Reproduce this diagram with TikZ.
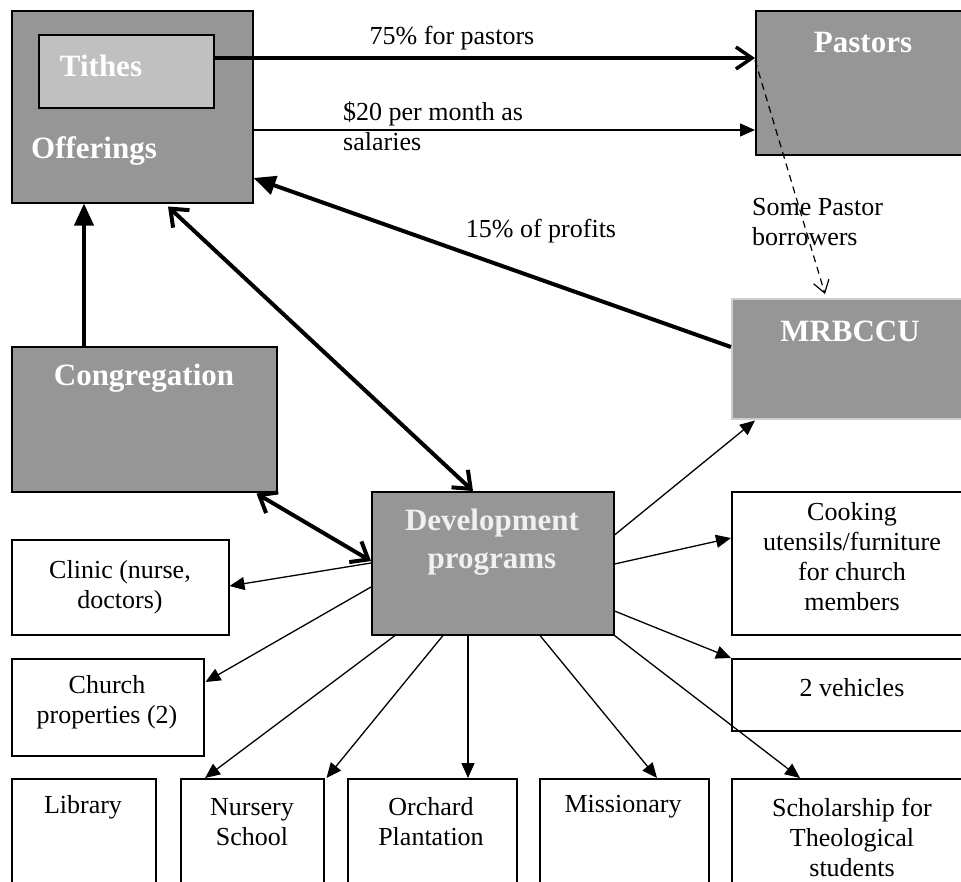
\documentclass[tikz,border=0pt]{standalone}
\usepackage{fontspec}
\setmainfont{Liberation Serif}
\usetikzlibrary{arrows.meta,calc}
\definecolor{boxgray}{RGB}{150,150,150}
\definecolor{tithegray}{RGB}{192,192,192}
\definecolor{mredge}{RGB}{205,205,205}

\tikzset{
  graybox/.style={draw=black, line width=1.5pt, fill=boxgray, inner sep=0pt, anchor=north west},
  whitebox/.style={draw=black, line width=1.5pt, fill=white, inner sep=0pt, anchor=north west},
  boldtext/.style={text=white, font=\fontsize{31}{34}\selectfont\bfseries, inner sep=0pt, align=center},
  plaintext/.style={font=\fontsize{26}{30}\selectfont, inner sep=0pt, align=center},
  thinarrow/.style={line width=1.3pt, -{Triangle[length=15pt,width=13pt]}},
  thickarrow/.style={line width=4pt, -{Triangle[length=22pt,width=19pt]}},
  thickbarbs/.style={line width=4pt, {Straight Barb[length=15pt,width=24pt]}-{Straight Barb[length=15pt,width=24pt]}},
}

\begin{document}
\begin{tikzpicture}[x=1pt, y=-1pt]
\useasboundingbox (0,0) rectangle (961,881);
\clip (0,0) rectangle (961,881);

% boxes
\node[graybox, minimum width=241pt, minimum height=192pt] (off) at (11,10) {};
\node[graybox, fill=tithegray, minimum width=175pt, minimum height=73pt] (tithes) at (38,34) {};
\node[graybox, minimum width=216pt, minimum height=144pt] (past) at (755,10) {};
\node[graybox, draw=mredge, minimum width=240pt, minimum height=120pt] (mr) at (731,298) {};
\node[graybox, minimum width=265pt, minimum height=145pt] (cong) at (11,346) {};
\node[graybox, minimum width=242pt, minimum height=143pt] (dev) at (371,491) {};
\node[whitebox, minimum width=240pt, minimum height=143pt] (cook) at (731,491) {};
\node[whitebox, minimum width=240pt, minimum height=72pt] (veh) at (731,658) {};
\node[whitebox, minimum width=217pt, minimum height=95pt] (clinic) at (11,539) {};
\node[whitebox, minimum width=192pt, minimum height=97pt] (church) at (11,658) {};
\node[whitebox, minimum width=144pt, minimum height=140pt] (lib) at (11,778) {};
\node[whitebox, minimum width=143pt, minimum height=140pt] (nurs) at (180,778) {};
\node[whitebox, minimum width=169pt, minimum height=140pt] (orch) at (347,778) {};
\node[whitebox, minimum width=169pt, minimum height=140pt] (miss) at (539,778) {};
\node[whitebox, minimum width=240pt, minimum height=140pt] (schol) at (731,778) {};

% box titles
\node[boldtext] (tTithes) at (101,66) {Tithes};
\node[boldtext, anchor=west] (tOff) at (31,151) {Offerings};
\node[boldtext] (tPast) at (863,43) {Pastors};
\node[boldtext] (tMr) at (850,331) {MRBCCU};
\node[boldtext] (tCong) at (144,378) {Congregation};
\node[boldtext, text=white!94!black, font=\fontsize{31}{38}\selectfont\bfseries] (tDev) at (492,542) {Development\\programs};
\node[plaintext] (tCook) at (852,557) {Cooking\\utensils/furniture\\for church\\members};
\node[plaintext] (tVeh) at (852,688) {2 vehicles};
\node[plaintext] (tClinic) at (120,587) {Clinic (nurse,\\doctors)};
\node[plaintext] (tChurch) at (107,702) {Church\\properties (2)};
\node[plaintext] (tLib) at (83,807) {Library};
\node[plaintext] (tNurs) at (252,822) {Nursery\\School};
\node[plaintext] (tOrch) at (431,822) {Orchard\\Plantation};
\node[plaintext] (tMiss) at (623,807) {Missionary};
\node[plaintext] (tSchol) at (852,837) {Scholarship for\\Theological\\students};

% flow labels
\node[plaintext] (l75) at (452,38) {75\% for pastors};
\node[plaintext, anchor=west, align=left] (l20) at (343,126) {\$20 per month as\\salaries};
\node[plaintext] (l15) at (541,231) {15\% of profits};
\node[plaintext, anchor=west, align=left] (lSome) at (752,222) {Some Pastor\\borrowers};

% money flows at the top
\draw[line width=3.5pt, -{Straight Barb[length=16pt,width=22pt]}]
  ($(tithes.north east)+(0,24)$) -- ($(past.north west)+(0,48)$);
\draw[thinarrow] ($(off.north east)+(0,120)$) -- ($(past.north west)+(0,120)$);
\draw[line width=1.2pt, dash pattern=on 7pt off 5pt, -{Straight Barb[length=12pt,width=16pt]}]
  ($(past.north west)+(0,50)$) -- ($(mr.north west)+(94,-4)$);
\draw[thickarrow] ($(mr.north west)+(0,49)$) -- ($(off.north east)+(0,168)$);
\draw[thickarrow] ($(cong.north west)+(73,0)$) -- ($(off.south west)+(73,0)$);
\draw[thickbarbs] ($(off.south west)+(157,3)$) -- ($(dev.north west)+(102,0)$);
\draw[thickbarbs] ($(cong.south east)+(-21,1)$) -- ($(dev.north west)+(0,70)$);

% development programs
\draw[thinarrow] ($(dev.north east)+(0,44)$) -- ($(mr.south west)+(24,1)$);
\draw[thinarrow] ($(dev.north east)+(0,73)$) -- ($(cook.north west)+(0,47)$);
\draw[thinarrow] ($(dev.north east)+(0,120)$) -- (veh.north west);
\draw[thinarrow] (dev.south east) -- ($(schol.north west)+(69,0)$);
\draw[thinarrow] ($(dev.south west)+(169,0)$) -- ($(miss.north west)+(118,0)$);
\draw[thinarrow] ($(dev.south west)+(97,0)$) -- ($(orch.north west)+(121,0)$);
\draw[thinarrow] ($(dev.south west)+(72,0)$) -- ($(nurs.north east)+(2,0)$);
\draw[thinarrow] ($(dev.south west)+(24,0)$) -- ($(nurs.north west)+(25,0)$);
\draw[thinarrow] ($(dev.north west)+(0,96)$) -- ($(church.north east)+(1,24)$);
\draw[thinarrow] ($(dev.north west)+(0,72)$) -- ($(clinic.north east)+(0,47)$);
\end{tikzpicture}
\end{document}
